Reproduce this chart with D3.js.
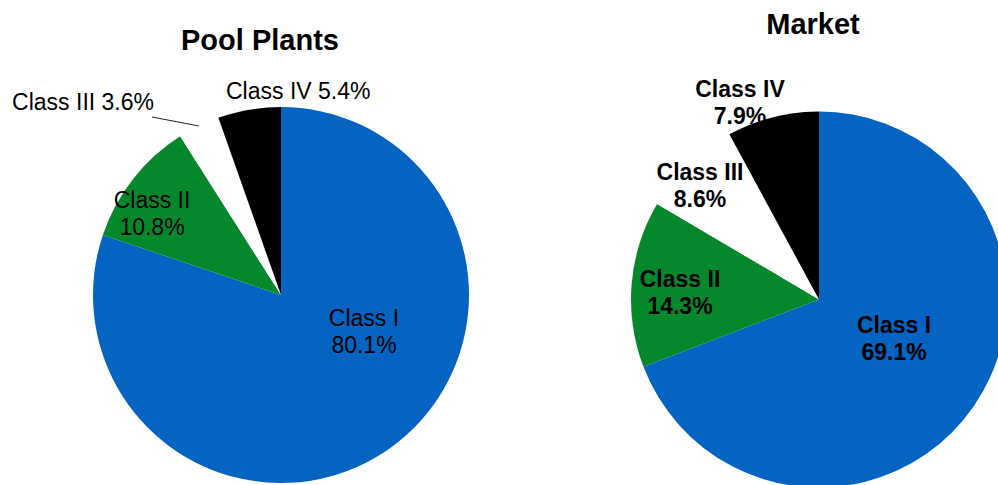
<!DOCTYPE html>
<html>
<head>
<meta charset="utf-8">
<script src="https://cdn.jsdelivr.net/npm/d3@7"></script>
<style>
    body { margin: 0; background: #fff; }
    svg { display: block; }
</style>
</head>
<body>
<div id="chart"></div>
<script>
var classes = ['Class I', 'Class II', 'Class III', 'Class IV'];
var poolValues = [80.1, 10.8, 3.6, 5.4];
var marketValues = [69.1, 14.3, 8.6, 7.9];
var titles = ['Pool Plants', 'Market'];

var sliceColors = ['#0563c1', '#05882c', '#ffffff', '#000000'];
var mainFont = '"Liberation Sans", Arial, sans-serif';

var width = 998;
var height = 485;
var radius = 188;

// label anchors, relative to pie centre: [dx, dy of first baseline, inline?]
var poolLabels = [
    {dx: 83, dy: 31, inline: false, anchor: 'middle'},
    {dx: -129, dy: -87, inline: false, anchor: 'middle'},
    {dx: -127, dy: -185, inline: true, anchor: 'end', leader: true},
    {dx: -55, dy: -196, inline: true, anchor: 'start'}
];
var marketLabels = [
    {dx: 75, dy: 33.5, inline: false, anchor: 'middle'},
    {dx: -139, dy: -12.5, inline: false, anchor: 'middle'},
    {dx: -119, dy: -119.5, inline: false, anchor: 'middle'},
    {dx: -79, dy: -202.5, inline: false, anchor: 'middle'}
];

window.onload = function() {
    render();
};

function render() {
    var svg = d3.select('#chart').append('svg')
        .attr('width', width)
        .attr('height', height);

    makePie(svg, 281, 295, poolValues, poolLabels, titles[0], 260, 50, 'normal');
    makePie(svg, 819, 299.5, marketValues, marketLabels, titles[1], 813, 34, 'bold');
}

function makePie(svg, cx, cy, values, labels, title, titleX, titleY, labelWeight) {
    var pie = d3.pie().sort(null).value(function(d) { return d; });
    var arc = d3.arc().innerRadius(0).outerRadius(radius);
    var rim = d3.arc().innerRadius(radius).outerRadius(radius);

    var g = svg.append('g')
        .attr('transform', 'translate(' + cx + ',' + cy + ')');

    var arcs = pie(values);

    g.selectAll('path.slice')
        .data(arcs)
        .enter().append('path')
        .attr('class', 'slice')
        .attr('d', arc)
        .attr('fill', function(d, i) { return sliceColors[i]; });

    // title
    svg.append('text')
        .attr('x', titleX)
        .attr('y', titleY)
        .style('font-family', mainFont)
        .style('font-size', '29px')
        .style('font-weight', 'bold')
        .style('text-anchor', 'middle')
        .text(title);

    // labels
    arcs.forEach(function(d, i) {
        var lab = labels[i];
        var pct = values[i].toFixed(1) + '%';
        var text = g.append('text')
            .attr('x', lab.dx)
            .attr('y', lab.dy)
            .style('font-family', mainFont)
            .style('font-size', '23px')
            .style('font-weight', labelWeight)
            .style('text-anchor', lab.anchor)
            .attr('fill', '#000');

        if (lab.inline) {
            text.text(classes[i] + ' ' + pct);
        } else {
            text.append('tspan')
                .attr('x', lab.dx)
                .text(classes[i]);
            text.append('tspan')
                .attr('x', lab.dx)
                .attr('dy', 27)
                .text(pct);
        }

        if (lab.leader) {
            var end = rim.centroid(d);
            g.append('path')
                .attr('d', d3.line()([
                    [lab.dx - 2, lab.dy + 7],
                    [end[0], end[1]]
                ]))
                .attr('stroke', '#222')
                .attr('stroke-width', 1)
                .attr('fill', 'none');
        }
    });
}
</script>
</body>
</html>
